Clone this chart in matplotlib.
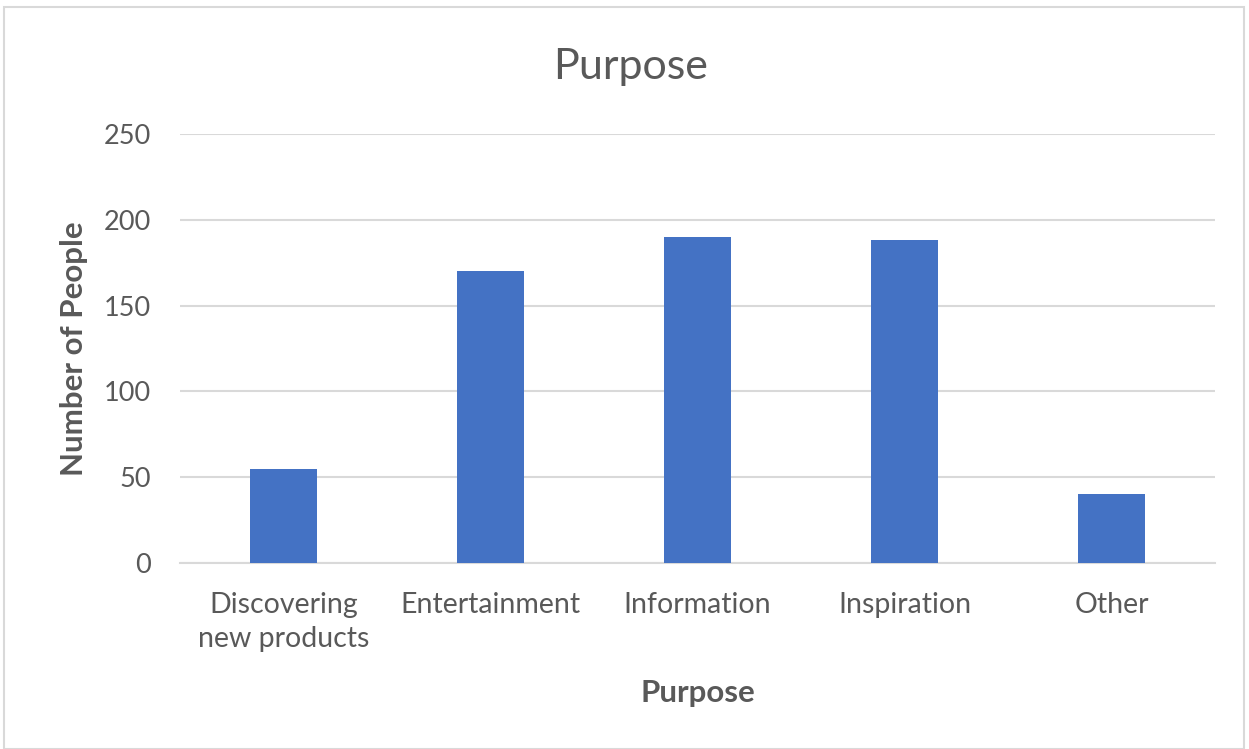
import matplotlib.pyplot as plt
from matplotlib.patches import Rectangle

categories = ["Discovering\nnew products", "Entertainment", "Information", "Inspiration", "Other"]
counts = [55, 170, 190, 188, 40]
y_ticks = [0, 50, 100, 150, 200, 250]

text_color = "#595959"
bar_color = "#4472C4"
grid_color = "#D9D9D9"

plt.rcParams['font.family'] = ['Lato', 'DejaVu Sans']

fig = plt.figure(figsize=(12.49, 7.49), dpi=100)
ax = fig.add_axes([180 / 1249, 1 - 563 / 749, 1035 / 1249, 429 / 749])

x = range(len(categories))
ax.bar(x, counts, width=0.32, color=bar_color, zorder=3)

ax.set_xlim(-0.5, len(categories) - 0.5)
ax.set_ylim(0, 250)
ax.set_yticks(y_ticks)
ax.set_xticks(list(x))
ax.set_xticklabels(categories, fontsize=20.5, color=text_color, linespacing=1.38)
ax.tick_params(axis='y', labelsize=19.5, labelcolor=text_color, length=0, pad=21)
ax.tick_params(axis='x', length=0, pad=21)
ax.grid(axis='y', color=grid_color, linewidth=1.5, zorder=0)

for side in ["top", "right", "left"]:
    ax.spines[side].set_visible(False)
ax.spines["bottom"].set_color(grid_color)
ax.spines["bottom"].set_linewidth(1.5)

ax.set_ylabel("Number of People", fontsize=22.5, fontweight='bold', color=text_color, labelpad=11)
ax.set_xlabel("Purpose", fontsize=22.5, fontweight='bold', color=text_color, labelpad=19)
fig.text(0.5045, 1 - 67 / 749, "Purpose", fontsize=31, color=text_color, ha='center', va='center')

# chart border
fig.patches.append(Rectangle((4 / 1249, 0), 1240 / 1249, 1 - 7 / 749, transform=fig.transFigure,
                             fill=False, edgecolor="#D9D9D9", linewidth=1.5))

fig.savefig("out.png", dpi=100)
